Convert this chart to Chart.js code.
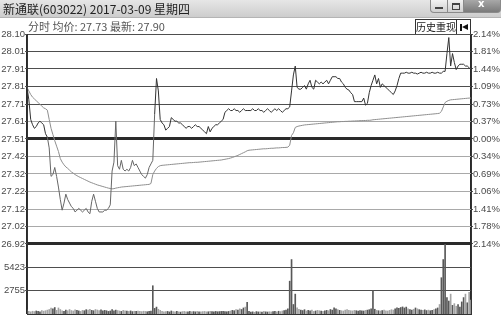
<!DOCTYPE html>
<html><head><meta charset="utf-8">
<script src="https://cdn.jsdelivr.net/npm/chart.js@4/dist/chart.umd.min.js"></script>
<style>
html,body{margin:0;padding:0;background:#fff;width:501px;height:316px;overflow:hidden}
#wrap{position:relative;width:501px;height:316px}
#c{position:absolute;left:0;top:0}
#tb{position:absolute;left:0;top:0;width:501px;height:17px;background:linear-gradient(#e6e6e6,#cdcdcd);border-bottom:1px solid #b4b4b4}
#ttl{position:absolute;left:3px;top:1px;font:12px "Noto Sans CJK SC",sans-serif;color:#222;line-height:15px;white-space:nowrap}
.wb{position:absolute;top:0;height:12px;border:1px solid #8a8a8a;border-top:none;background:linear-gradient(#f2f2f2,#cfcfcf)}
#bmin{left:430px;width:16px;border-radius:0 0 0 4px}
#bmax{left:447px;width:15px}
#bcls{left:463px;width:36px;background:linear-gradient(#a8a8a8,#7a7a7a);border-radius:0 0 4px 0}
#bmin i{position:absolute;left:4px;top:7px;width:8px;height:2px;background:#444}
#bmax i{position:absolute;left:4px;top:3px;width:6px;height:4px;border:1px solid #444;border-top-width:2px}
#bcls i{position:absolute;left:14px;top:-2px;font:bold 10px "DejaVu Sans",sans-serif;color:#fff;font-style:normal}
#info{position:absolute;left:28px;top:19px;font:11px "Noto Sans CJK SC",sans-serif;color:#555;line-height:14px;white-space:nowrap}
#hist{position:absolute;left:415px;top:19px;width:42px;height:15px;border:1px solid #333;border-bottom:none;background:#fff;font:10px "Noto Sans CJK SC",sans-serif;color:#222;line-height:14px;text-align:center;box-sizing:border-box;white-space:nowrap;overflow:hidden}
#arr{position:absolute;left:457px;top:19px;width:14px;height:15px;border:1px solid #333;border-left:none;border-bottom:none;background:#fff;box-sizing:border-box}
#arr .bar{position:absolute;left:3px;top:4px;width:2px;height:7px;background:#111}
#arr .tri{position:absolute;left:5px;top:4px;width:0;height:0;border-top:3.5px solid transparent;border-bottom:3.5px solid transparent;border-right:6px solid #111}
</style></head>
<body><div id="wrap">
<canvas id="c" width="501" height="316"></canvas>
<div id="tb"><div id="ttl">新通联(603022) 2017-03-09 星期四</div>
<div class="wb" id="bmin"><i></i></div><div class="wb" id="bmax"><i></i></div><div class="wb" id="bcls"><i>x</i></div></div>
<div id="info">分时 均价: 27.73 最新: 27.90</div>
<div id="hist">历史重现</div><div id="arr"><span class="bar"></span><span class="tri"></span></div>
</div>
<script>
// ---- data ----
const priceLabels = ['28.10','28.01','27.91','27.81','27.71','27.61','27.51','27.42','27.32','27.22','27.12','27.02','26.92'];
const pctLabels = ['2.14%','1.81%','1.44%','1.09%','0.73%','0.37%','0.00%','0.34%','0.69%','1.06%','1.41%','1.78%','2.14%'];
const volLabels = [2755, 5423];
const prevClose = 27.51;

const price = [
27.80,27.73,27.62,27.59,27.57,27.58,27.60,27.61,27.60,27.59,
27.54,27.52,27.46,27.30,27.31,27.35,27.30,27.24,27.17,27.11,
27.15,27.20,27.17,27.15,27.13,27.12,27.10,27.11,27.12,27.11,
27.10,27.11,27.12,27.10,27.09,27.16,27.20,27.16,27.12,27.10,
27.10,27.10,27.11,27.11,27.12,27.14,27.33,27.38,27.61,27.36,
27.34,27.39,27.34,27.33,27.34,27.33,27.35,27.39,27.36,27.37,
27.35,27.33,27.31,27.30,27.29,27.31,27.35,27.37,27.39,27.65,
27.85,27.78,27.62,27.60,27.59,27.56,27.57,27.58,27.63,27.62,
27.61,27.61,27.60,27.60,27.59,27.58,27.57,27.58,27.58,27.57,
27.58,27.59,27.58,27.58,27.57,27.56,27.55,27.54,27.58,27.55,
27.57,27.58,27.59,27.59,27.60,27.61,27.62,27.66,27.67,27.68,
27.67,27.67,27.68,27.67,27.67,27.66,27.67,27.68,27.67,27.67,
27.67,27.67,27.68,27.67,27.67,27.68,27.67,27.67,27.66,27.67,
27.68,27.67,27.66,27.67,27.68,27.67,27.68,27.67,27.66,27.67,
27.68,27.68,27.69,27.78,27.87,27.92,27.80,27.79,27.79,27.80,
27.81,27.79,27.82,27.84,27.80,27.79,27.84,27.83,27.82,27.83,
27.82,27.83,27.84,27.82,27.84,27.86,27.86,27.86,27.85,27.85,
27.83,27.82,27.80,27.79,27.785,27.77,27.76,27.72,27.72,27.72,
27.72,27.72,27.74,27.70,27.71,27.77,27.81,27.84,27.87,27.82,
27.85,27.80,27.82,27.81,27.80,27.79,27.78,27.77,27.76,27.78,
27.81,27.85,27.88,27.88,27.88,27.885,27.88,27.88,27.885,27.88,
27.88,27.875,27.88,27.885,27.88,27.88,27.885,27.88,27.88,27.885,
27.88,27.88,27.885,27.88,27.88,27.89,27.89,27.99,28.08,27.92,
27.99,27.94,27.90,27.92,27.93,27.93,27.93,27.92,27.92,27.91,
27.90];

const avgPrice = [
27.80,27.78,27.76,27.745,27.735,27.725,27.715,27.705,27.695,27.685,
27.68,27.672,27.62,27.57,27.535,27.50,27.47,27.44,27.40,27.38,
27.365,27.353,27.345,27.335,27.325,27.318,27.31,27.304,27.298,27.293,
27.288,27.283,27.278,27.273,27.268,27.264,27.26,27.256,27.252,27.249,
27.246,27.243,27.24,27.237,27.234,27.232,27.23,27.231,27.234,27.236,
27.238,27.24,27.241,27.242,27.243,27.244,27.245,27.246,27.247,27.248,
27.249,27.25,27.251,27.252,27.253,27.254,27.255,27.26,27.31,27.33,
27.345,27.355,27.36,27.362,27.363,27.364,27.365,27.366,27.367,27.368,
27.369,27.37,27.371,27.372,27.373,27.374,27.375,27.376,27.377,27.377,
27.378,27.379,27.379,27.38,27.381,27.382,27.383,27.384,27.385,27.386,
27.387,27.388,27.389,27.39,27.391,27.392,27.394,27.396,27.398,27.40,
27.403,27.406,27.41,27.414,27.418,27.423,27.428,27.433,27.438,27.444,
27.447,27.448,27.449,27.45,27.451,27.452,27.453,27.454,27.455,27.455,
27.456,27.457,27.458,27.458,27.459,27.46,27.46,27.461,27.462,27.462,
27.463,27.464,27.475,27.53,27.545,27.575,27.58,27.583,27.585,27.587,
27.589,27.59,27.591,27.592,27.593,27.594,27.595,27.596,27.597,27.598,
27.599,27.60,27.601,27.602,27.603,27.604,27.605,27.606,27.607,27.607,
27.608,27.608,27.609,27.609,27.61,27.61,27.611,27.611,27.612,27.612,
27.613,27.613,27.614,27.614,27.615,27.615,27.616,27.618,27.619,27.62,
27.621,27.622,27.623,27.624,27.625,27.626,27.627,27.628,27.629,27.63,
27.631,27.632,27.633,27.634,27.635,27.636,27.637,27.638,27.639,27.64,
27.641,27.642,27.643,27.644,27.645,27.646,27.647,27.648,27.649,27.65,
27.651,27.652,27.653,27.655,27.665,27.69,27.715,27.722,27.727,27.73,
27.731,27.732,27.733,27.734,27.735,27.736,27.737,27.738,27.739,27.74,
27.74];

const volume = [
480,300,250,320,280,350,300,260,400,330,
380,450,520,680,600,750,420,700,520,380,
300,450,380,520,400,350,480,420,360,300,
420,380,500,460,550,420,380,520,460,400,
480,360,420,380,300,350,520,380,450,400,
350,300,420,380,340,300,360,280,320,300,
350,300,280,320,300,260,300,350,3270,650,
800,550,420,300,250,280,300,240,350,280,
260,300,250,220,280,300,260,240,300,260,
280,250,300,260,240,280,300,250,260,300,
280,250,300,260,280,300,320,280,260,300,
350,420,380,500,450,600,520,700,800,1350,
300,220,250,200,280,240,260,220,300,250,
230,260,240,280,300,250,320,280,350,400,
450,600,3800,6300,1100,2300,700,550,450,400,
500,350,420,380,450,300,350,420,380,330,
300,360,420,380,520,450,700,600,500,420,
380,350,450,500,420,380,360,420,380,350,
400,380,350,420,450,500,600,2700,550,420,
380,350,400,450,380,350,420,500,450,600,
700,650,750,820,700,800,600,500,450,550,
700,600,500,450,420,480,400,450,380,420,
500,600,700,1100,4200,6300,8050,1900,1500,2300,
1000,1200,900,1100,800,1400,1900,2300,1300,2500,
1600];

// ---- layout of the two panels on one chart area ----
const priceTop = parseFloat(priceLabels[0]);
const priceBottom = parseFloat(priceLabels[priceLabels.length - 1]);
const priceShare = 0.75;           // price panel takes 3/4 of the plot height
const volPanelMax = 8100;          // volume at the top of the volume panel
const priceMin = priceTop - (priceTop - priceBottom) / priceShare;
const volAxisMax = volPanelMax / (1 - priceShare);
const priceTickVals = priceLabels.map((_, i) => priceTop - i * (priceTop - priceBottom) / (priceLabels.length - 1));

const thick = i => i === 6 || i === 12;
const priceGridColor = ctx => thick(ctx.index) ? '#2a2a2a' : (ctx.index >= 5 ? '#a9a9a9' : '#4e4e4e');
const priceGridWidth = ctx => thick(ctx.index) ? 3 : 1;
const labelFont = {family: '"Liberation Sans", Arial, sans-serif', size: 9.5};
const barColors = volume.map((v, i) => (i === 0 || price[i] >= price[i - 1]) ? '#585858' : '#a4a4a4');
const noPad = s => { s.paddingTop = 0; s.paddingBottom = 0; s.paddingLeft = 0; s.paddingRight = 0; };

new Chart(document.getElementById('c'), {
  type: 'line',
  data: {
    datasets: [
      {
        label: 'price', yAxisID: 'y',
        data: price.map((v, i) => ({x: i, y: v})),
        borderColor: '#3a3a3a', borderWidth: 1, pointRadius: 0, tension: 0,
        segment: { borderColor: ctx => (ctx.p0.parsed.y >= prevClose && ctx.p1.parsed.y >= prevClose) ? '#333333' : '#666666' },
        order: 1
      },
      {
        label: 'avg', yAxisID: 'y',
        data: avgPrice.map((v, i) => ({x: i, y: v})),
        borderColor: '#8e8e8e', borderWidth: 1, pointRadius: 0, tension: 0,
        order: 2
      },
      {
        type: 'bar', label: 'volume', yAxisID: 'yVol',
        data: volume.map((v, i) => ({x: i, y: v})),
        backgroundColor: barColors, barThickness: 1, borderWidth: 0,
        order: 3
      }
    ]
  },
  options: {
    responsive: false, animation: false, events: [], devicePixelRatio: 1,
    layout: {padding: {top: 34, bottom: 2, left: 0, right: 0}},
    plugins: {legend: {display: false}, tooltip: {enabled: false}},
    scales: {
      x: {
        type: 'linear', min: 0, max: volume.length - 1, offset: false,
        afterBuildTicks: s => { s.ticks = [{value: (volume.length - 1) / 2}]; },
        ticks: {display: false},
        grid: {color: '#2a2a2a', lineWidth: 2, drawTicks: false},
        border: {display: true, color: '#333', width: 1},
        afterFit: s => { s.height = 0; noPad(s); }
      },
      y: {
        position: 'left', weight: 1, min: priceMin, max: priceTop,
        afterBuildTicks: s => { s.ticks = priceTickVals.map(v => ({value: v})); },
        ticks: {autoSkip: false, padding: 0, color: '#4a4a4a', font: labelFont, callback: (v, i) => priceLabels[i]},
        grid: {color: priceGridColor, lineWidth: priceGridWidth, tickLength: 2, tickColor: '#555', tickWidth: 1},
        border: {display: true, color: '#333', width: 1},
        afterFit: s => { s.width = 27; noPad(s); }
      },
      yVol: {
        position: 'left', weight: 0, min: 0, max: volAxisMax,
        afterBuildTicks: s => { s.ticks = volLabels.map(v => ({value: v})); },
        ticks: {autoSkip: false, mirror: true, padding: -23, color: '#4a4a4a', font: labelFont, callback: (v, i) => String(volLabels[i])},
        grid: {color: '#4e4e4e', lineWidth: 1, tickLength: 2, tickColor: '#555'},
        border: {display: false},
        afterFit: s => { s.width = 0; noPad(s); }
      },
      yPct: {
        position: 'right', min: priceMin, max: priceTop,
        afterBuildTicks: s => { s.ticks = priceTickVals.map(v => ({value: v})); },
        ticks: {autoSkip: false, padding: 0, color: '#4a4a4a', font: labelFont, callback: (v, i) => pctLabels[i]},
        grid: {drawOnChartArea: false, tickLength: 2, color: '#555'},
        border: {display: true, color: '#333', width: 1},
        afterFit: s => { s.width = 30; noPad(s); }
      }
    }
  }
});
</script>
</body></html>
